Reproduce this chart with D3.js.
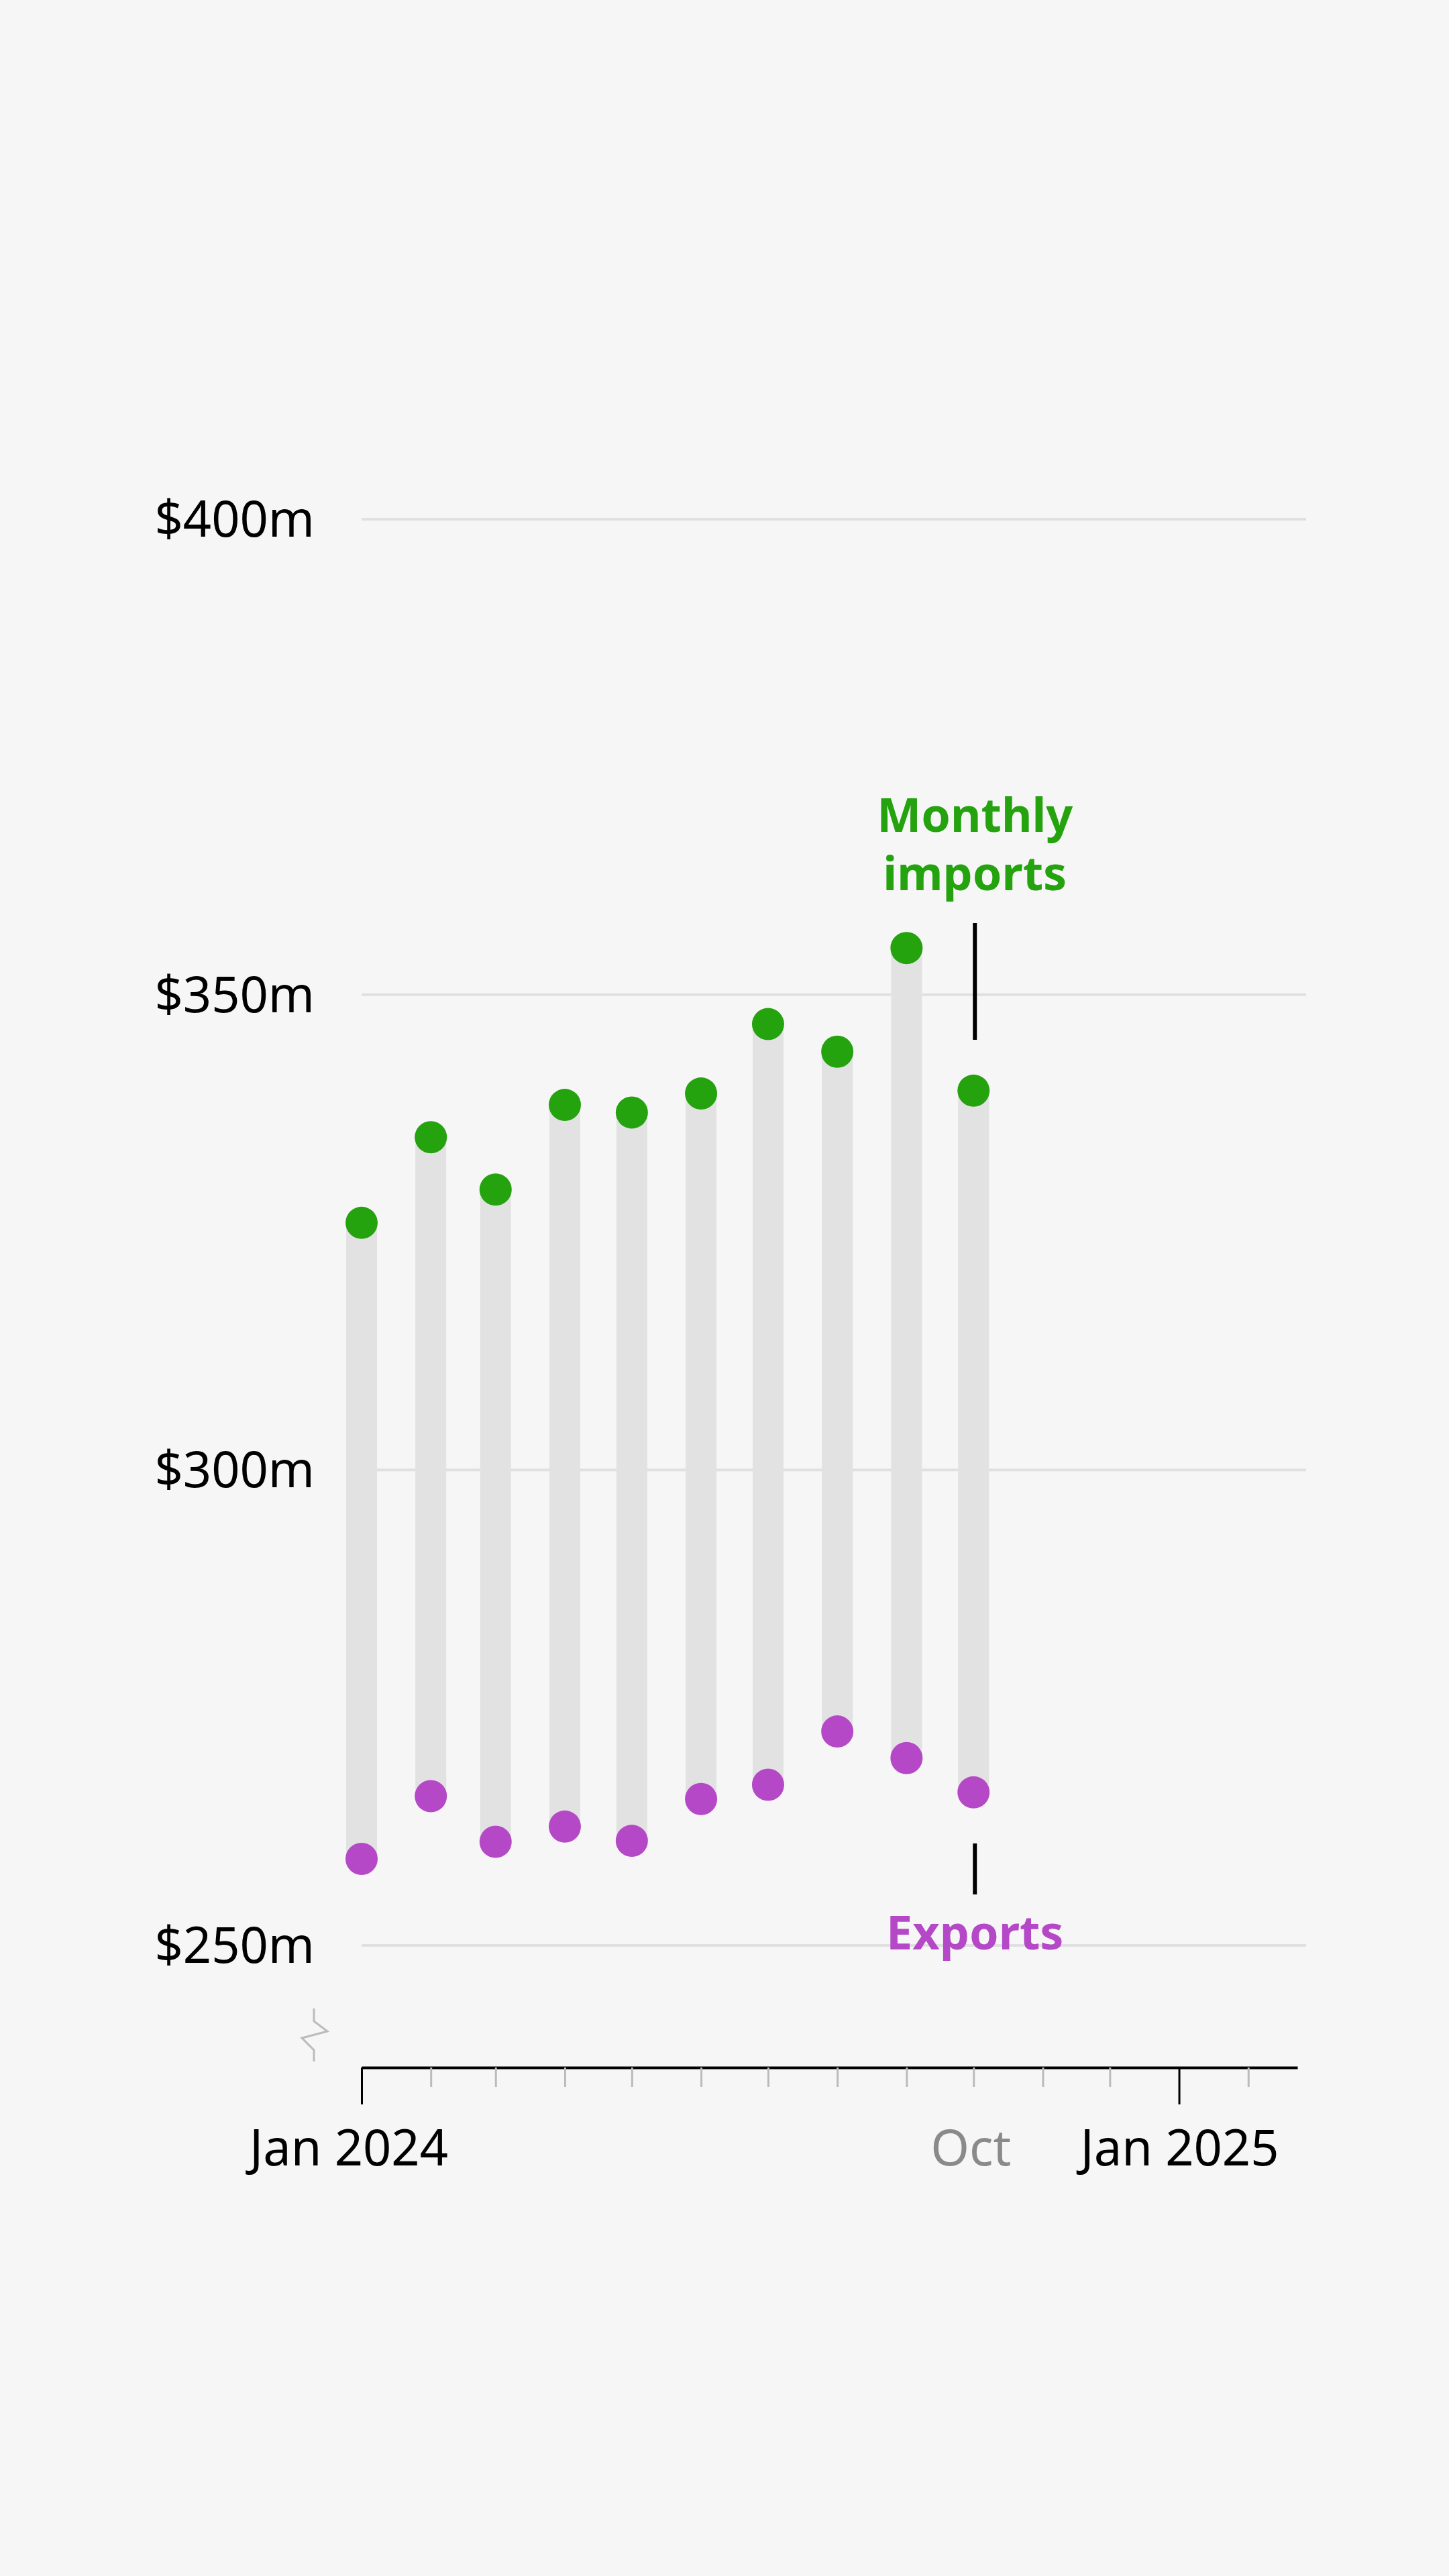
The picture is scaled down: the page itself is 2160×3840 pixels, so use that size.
<!DOCTYPE html>
<html>
<head>
<meta charset="utf-8">
<script src="https://cdn.jsdelivr.net/npm/d3@7"></script>
<style>
  body { margin: 0; background: #f6f6f6; }
  svg { display: block; font-family: "Noto Sans", sans-serif; }
</style>
</head>
<body>
<div id="chart"></div>
<script>
// monthly trade values, $m (Jan - Oct 2024)
var months = ["2024-01-01", "2024-02-01", "2024-03-01", "2024-04-01", "2024-05-01",
              "2024-06-01", "2024-07-01", "2024-08-01", "2024-09-01", "2024-10-01"];
var imports = [326.0, 335.0, 329.5, 338.4, 337.6, 339.6, 346.9, 344.0, 354.9, 339.9];
var exports = [259.1, 265.7, 260.9, 262.5, 261.0, 265.4, 266.9, 272.5, 269.7, 266.1];
var yTicks = [250, 300, 350, 400];
var xLabels = [
    {date: "2024-01-01", text: "Jan 2024", color: "#000", shift: -19},
    {date: "2024-10-01", text: "Oct", color: "#8a8a8a", shift: -4},
    {date: "2025-01-01", text: "Jan 2025", color: "#000", shift: 1}
];

var width = 2160, height = 3840;
var parse = d3.timeParse("%Y-%m-%d");

var svg = d3.select("#chart").append("svg")
    .attr("width", width)
    .attr("height", height);

svg.append("rect")
    .attr("width", width)
    .attr("height", height)
    .attr("fill", "#f6f6f6");

var x = d3.scaleTime()
    .domain([parse("2024-01-01"), parse("2025-02-23")])
    .range([539, 1934]);

var y = d3.scaleLinear()
    .domain([250, 400])
    .range([2900, 774]);

//gridlines + y labels
var grid = svg.append("g");
grid.selectAll("line")
    .data(yTicks)
    .enter()
    .append("line")
    .attr("x1", x.range()[0])
    .attr("x2", x.range()[1] + 13)
    .attr("y1", function (d) { return y(d); })
    .attr("y2", function (d) { return y(d); })
    .attr("stroke", "#e0e0e0")
    .attr("stroke-width", 4);

grid.selectAll("text")
    .data(yTicks)
    .enter()
    .append("text")
    .attr("x", 469)
    .attr("y", function (d) { return y(d) + 26; })
    .attr("text-anchor", "end")
    .attr("font-size", 74)
    .attr("fill", "#000")
    .text(function (d) { return "$" + d + "m"; });

//axis break zigzag
svg.append("path")
    .attr("d", "M468,2994 L468,3013 L488,3028 L450,3038 L468,3056 L468,3073")
    .attr("fill", "none")
    .attr("stroke", "#bbbbbb")
    .attr("stroke-width", 3);

//x axis
var xAxis = d3.axisBottom(x)
    .ticks(d3.timeMonth.every(1))
    .tickSizeOuter(0)
    .tickFormat("");

var axisG = svg.append("g")
    .attr("transform", "translate(0,3082)")
    .call(xAxis);

axisG.select(".domain")
    .attr("stroke", "#000")
    .attr("stroke-width", 4);

axisG.selectAll(".tick line")
    .attr("y1", 0)
    .attr("y2", function (d) { return d.getMonth() == 0 ? 55 : 29; })
    .attr("stroke", function (d) { return d.getMonth() == 0 ? "#000" : "#bbbbbb"; })
    .attr("stroke-width", 3);

svg.append("g").selectAll("text")
    .data(xLabels)
    .enter()
    .append("text")
    .attr("x", function (d) { return x(parse(d.date)) + d.shift; })
    .attr("y", 3228)
    .attr("text-anchor", "middle")
    .attr("font-size", 74)
    .attr("fill", function (d) { return d.color; })
    .text(function (d) { return d.text; });

//bars and dots
var data = months.map(function (m, i) {
    return {date: parse(m), imp: imports[i], exp: exports[i]};
});

var bars = svg.append("g");
bars.selectAll("rect")
    .data(data)
    .enter()
    .append("rect")
    .attr("x", function (d) { return x(d.date) - 23; })
    .attr("width", 46)
    .attr("y", function (d) { return y(d.imp); })
    .attr("height", function (d) { return y(d.exp) - y(d.imp); })
    .attr("fill", "#e2e2e2");

bars.selectAll("circle.imp")
    .data(data)
    .enter()
    .append("circle")
    .attr("class", "imp")
    .attr("cx", function (d) { return x(d.date); })
    .attr("cy", function (d) { return y(d.imp); })
    .attr("r", 24)
    .attr("fill", "#24a30f");

bars.selectAll("circle.exp")
    .data(data)
    .enter()
    .append("circle")
    .attr("class", "exp")
    .attr("cx", function (d) { return x(d.date); })
    .attr("cy", function (d) { return y(d.exp); })
    .attr("r", 24)
    .attr("fill", "#b548c7");

//annotations
var last = data[data.length - 1];
var ax = x(last.date) + 2;

svg.append("line")
    .attr("x1", ax).attr("x2", ax)
    .attr("y1", 1376).attr("y2", 1550)
    .attr("stroke", "#000").attr("stroke-width", 6);

svg.append("line")
    .attr("x1", ax).attr("x2", ax)
    .attr("y1", 2748).attr("y2", 2824)
    .attr("stroke", "#000").attr("stroke-width", 6);

var impLabel = svg.append("text")
    .attr("text-anchor", "middle")
    .attr("font-size", 70)
    .attr("font-weight", "bold")
    .attr("fill", "#24a30f");
impLabel.append("tspan").attr("x", ax).attr("y", 1240).text("Monthly");
impLabel.append("tspan").attr("x", ax).attr("y", 1327).text("imports");

svg.append("text")
    .attr("x", ax)
    .attr("y", 2906)
    .attr("text-anchor", "middle")
    .attr("font-size", 70)
    .attr("font-weight", "bold")
    .attr("fill", "#b548c7")
    .text("Exports");
</script>
</body>
</html>
